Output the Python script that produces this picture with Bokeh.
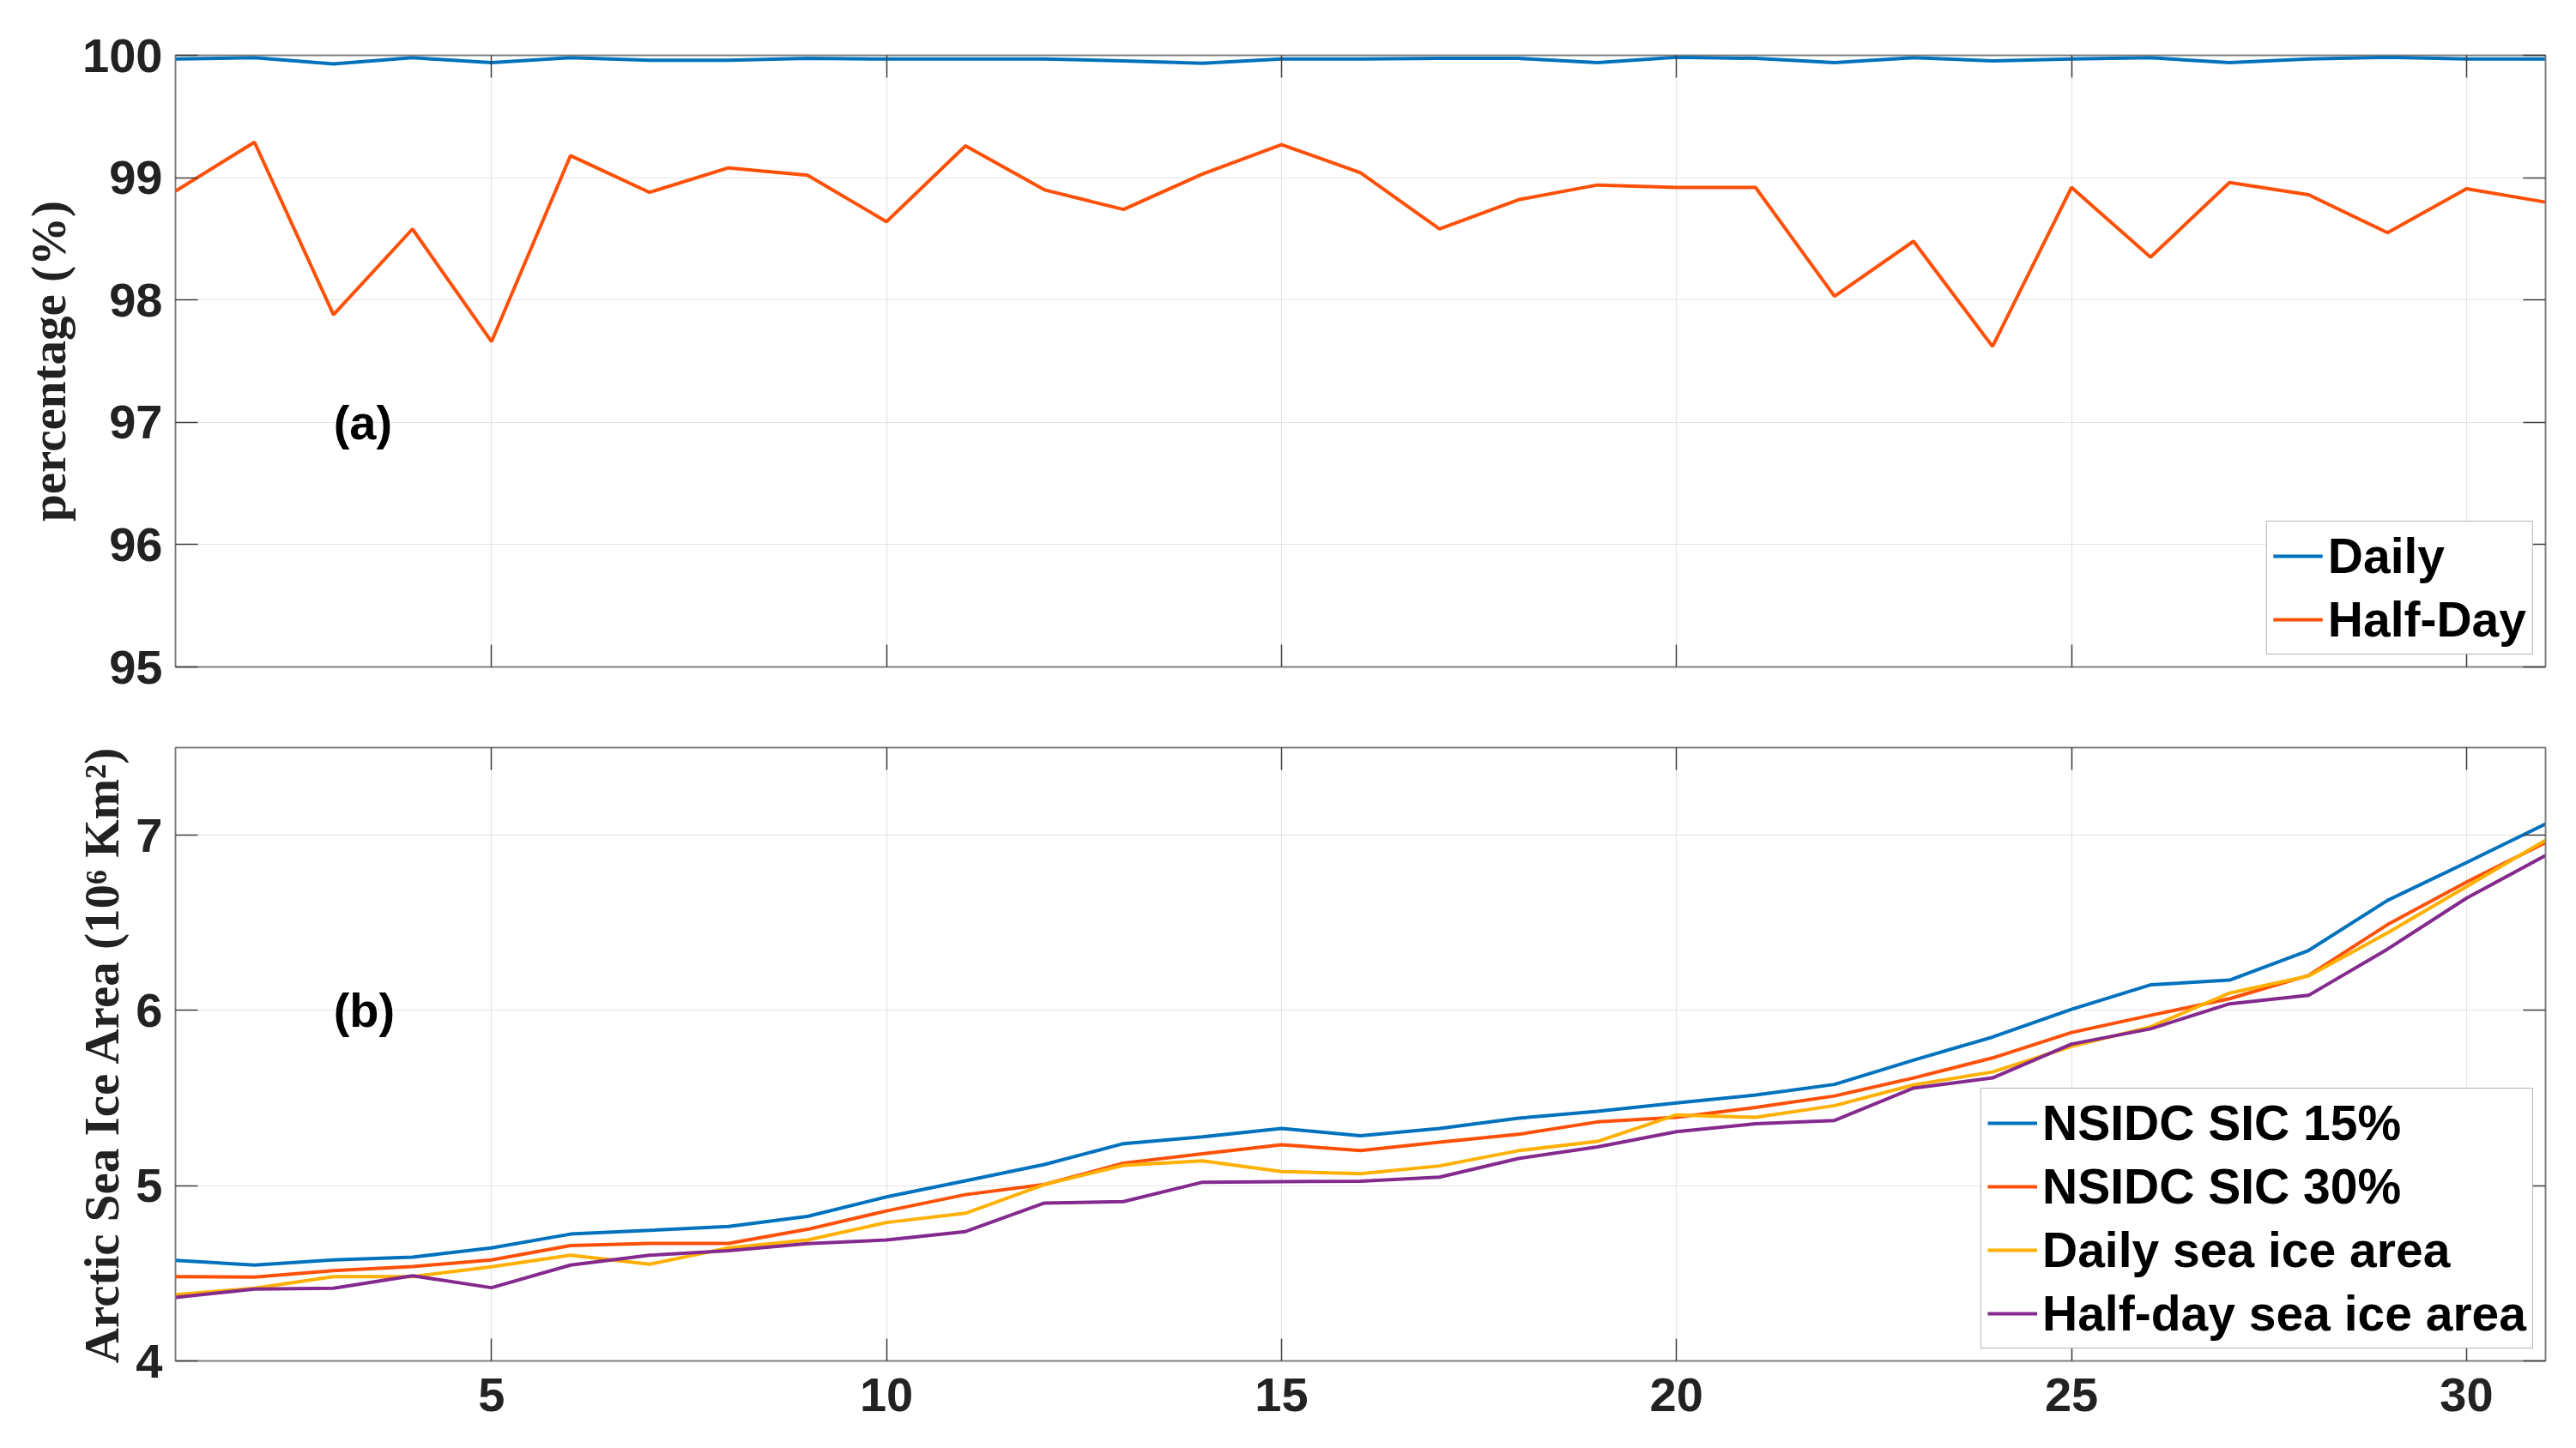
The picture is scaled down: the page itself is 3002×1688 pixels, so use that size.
from bokeh.plotting import figure
from bokeh.layouts import column
from bokeh.models import (LinearAxis, FixedTicker, Label, CustomJSTickFormatter,
                          Range1d)
from bokeh.embed import file_html
from bokeh.resources import INLINE

# ---------------- data ----------------
days = list(range(1, 32))

daily_pct = [99.97, 99.98, 99.93, 99.98, 99.94, 99.98, 99.96, 99.96, 99.975, 99.97,
             99.97, 99.97, 99.955, 99.935, 99.97, 99.97, 99.975, 99.975, 99.94, 99.985,
             99.975, 99.94, 99.98, 99.955, 99.97, 99.98, 99.94, 99.97, 99.985, 99.97, 99.97]
halfday_pct = [98.89, 99.29, 97.88, 98.58, 97.66, 99.18, 98.88, 99.08, 99.02, 98.64,
               99.26, 98.90, 98.74, 99.03, 99.27, 99.04, 98.58, 98.82, 98.94, 98.92,
               98.92, 98.03, 98.48, 97.62, 98.92, 98.35, 98.96, 98.86, 98.55, 98.91, 98.80]

nsidc_15 = [4.574, 4.547, 4.576, 4.592, 4.645, 4.724, 4.745, 4.767, 4.825, 4.936,
            5.028, 5.121, 5.240, 5.279, 5.327, 5.285, 5.327, 5.385, 5.425, 5.472,
            5.517, 5.578, 5.716, 5.848, 6.006, 6.146, 6.173, 6.342, 6.628, 6.844, 7.064]
nsidc_30 = [4.481, 4.478, 4.515, 4.539, 4.576, 4.658, 4.671, 4.671, 4.751, 4.856,
            4.949, 5.007, 5.129, 5.182, 5.234, 5.200, 5.248, 5.293, 5.364, 5.390,
            5.446, 5.512, 5.615, 5.729, 5.874, 5.972, 6.067, 6.200, 6.490, 6.733, 6.958]
daily_area = [4.378, 4.415, 4.481, 4.481, 4.537, 4.603, 4.552, 4.645, 4.690, 4.790,
              4.843, 5.007, 5.116, 5.142, 5.081, 5.068, 5.113, 5.200, 5.253, 5.404,
              5.390, 5.457, 5.575, 5.649, 5.795, 5.906, 6.099, 6.197, 6.443, 6.707, 6.971]
halfday_area = [4.362, 4.410, 4.415, 4.486, 4.418, 4.547, 4.603, 4.629, 4.669, 4.690,
                4.738, 4.901, 4.909, 5.020, 5.023, 5.026, 5.049, 5.155, 5.221, 5.308,
                5.353, 5.372, 5.557, 5.615, 5.808, 5.895, 6.038, 6.086, 6.350, 6.641, 6.884]

x_ticks = [5, 10, 15, 20, 25, 30]
pct_ticks = [95, 96, 97, 98, 99, 100]
area_ticks = [4, 5, 6, 7]

top_labels = ["Daily", "Half-Day"]
bottom_labels = ["NSIDC SIC 15%", "NSIDC SIC 30%", "Daily sea ice area", "Half-day sea ice area"]

# ---------------- style ----------------
BLUE = "#0072BD"
RED = "#FF5008"
YELLOW = "#FFB000"
PURPLE = "#84298D"
SANS = "Liberation Sans"
SERIF = "Liberation Serif"
FRAME = "#7a7a7a"
TICKC = "#3c3c3c"
TXT = "#222222"
LW = 4

FRAME_W = 2762


def blank():
    return CustomJSTickFormatter(code="return ''")


def style_axes(p, yticks, show_x_labels, ylabel):
    xa = p.below[0]
    ya = p.left[0]
    xa.ticker = FixedTicker(ticks=x_ticks)
    ya.ticker = FixedTicker(ticks=yticks)
    for ax in (xa, ya):
        ax.major_tick_in = 26
        ax.major_tick_out = 0
        ax.minor_tick_line_color = None
        ax.major_tick_line_color = TICKC
        ax.major_tick_line_width = 1.5
        ax.axis_line_color = FRAME
        ax.axis_line_width = 1.5
        ax.major_label_text_font = SANS
        ax.major_label_text_font_style = "bold"
        ax.major_label_text_font_size = "56px"
        ax.major_label_text_color = TXT
    ya.major_label_standoff = 15
    xa.major_label_standoff = 20
    if not show_x_labels:
        xa.formatter = blank()
        xa.major_label_text_font_size = "1px"
    ya.axis_label = ylabel
    ya.axis_label_text_font = SERIF
    ya.axis_label_text_font_style = "bold"
    ya.axis_label_text_font_size = "57px"
    ya.axis_label_text_color = TXT
    ya.axis_label_standoff = 5

    for loc, tk in (("above", x_ticks), ("right", yticks)):
        ax = LinearAxis(ticker=FixedTicker(ticks=tk), formatter=blank())
        ax.major_tick_in = 26
        ax.major_tick_out = 0
        ax.minor_tick_line_color = None
        ax.major_tick_line_color = TICKC
        ax.major_tick_line_width = 1.5
        ax.axis_line_color = FRAME
        ax.axis_line_width = 1.5
        ax.major_label_text_font_size = "1px"
        ax.major_label_standoff = 0
        p.add_layout(ax, loc)

    p.xgrid.ticker = FixedTicker(ticks=x_ticks)
    p.ygrid.ticker = FixedTicker(ticks=yticks)
    for g in (p.xgrid, p.ygrid):
        g.grid_line_color = "#e4e4e4"
        g.grid_line_width = 1.2
    p.outline_line_color = FRAME
    p.outline_line_width = 1.5
    p.background_fill_color = "white"
    p.border_fill_color = "white"


def style_legend(p):
    lg = p.legend[0]
    lg.location = "bottom_right"
    lg.margin = 14
    lg.padding = 7
    lg.spacing = 8
    lg.glyph_width = 58
    lg.glyph_height = 20
    lg.label_height = 20
    lg.label_standoff = 6
    lg.label_text_font = SANS
    lg.label_text_font_style = "bold"
    lg.label_text_font_size = "57px"
    lg.label_text_color = "black"
    lg.border_line_color = "#6a6a6a"
    lg.border_line_width = 1.5
    lg.background_fill_color = "white"
    lg.background_fill_alpha = 1.0


# ---------------- panel (a) ----------------
p1 = figure(frame_width=FRAME_W, frame_height=713,
            min_border_left=204, min_border_right=20,
            min_border_top=64, min_border_bottom=47,
            x_range=Range1d(1, 31), y_range=Range1d(95, 100),
            output_backend="svg", toolbar_location=None)
p1.line(days, daily_pct, line_color=BLUE, line_width=LW, legend_label=top_labels[0])
p1.line(days, halfday_pct, line_color=RED, line_width=LW, legend_label=top_labels[1])
style_axes(p1, pct_ticks, False, "percentage (%)")
style_legend(p1)
p1.add_layout(Label(x=3, y=97, text="(a)", text_font=SANS, text_font_style="bold",
                    text_font_size="56px", text_color="black",
                    text_baseline="middle", text_align="left"))

# ---------------- panel (b) ----------------
p2 = figure(frame_width=FRAME_W, frame_height=715,
            min_border_left=204, min_border_right=20,
            min_border_top=47, min_border_bottom=85,
            x_range=Range1d(1, 31), y_range=Range1d(4, 7.5),
            output_backend="svg", toolbar_location=None)
p2.line(days, nsidc_15, line_color=BLUE, line_width=LW, legend_label=bottom_labels[0])
p2.line(days, nsidc_30, line_color=RED, line_width=LW, legend_label=bottom_labels[1])
p2.line(days, daily_area, line_color=YELLOW, line_width=LW, legend_label=bottom_labels[2])
p2.line(days, halfday_area, line_color=PURPLE, line_width=LW, legend_label=bottom_labels[3])
style_axes(p2, area_ticks, True, "Arctic Sea Ice Area (10\u2076 Km\u00b2)")
style_legend(p2)
p2.add_layout(Label(x=3, y=6, text="(b)", text_font=SANS, text_font_style="bold",
                    text_font_size="56px", text_color="black",
                    text_baseline="middle", text_align="left"))

layout = column(p1, p2, spacing=0)
open("out.html", "w").write(file_html(layout, INLINE))
